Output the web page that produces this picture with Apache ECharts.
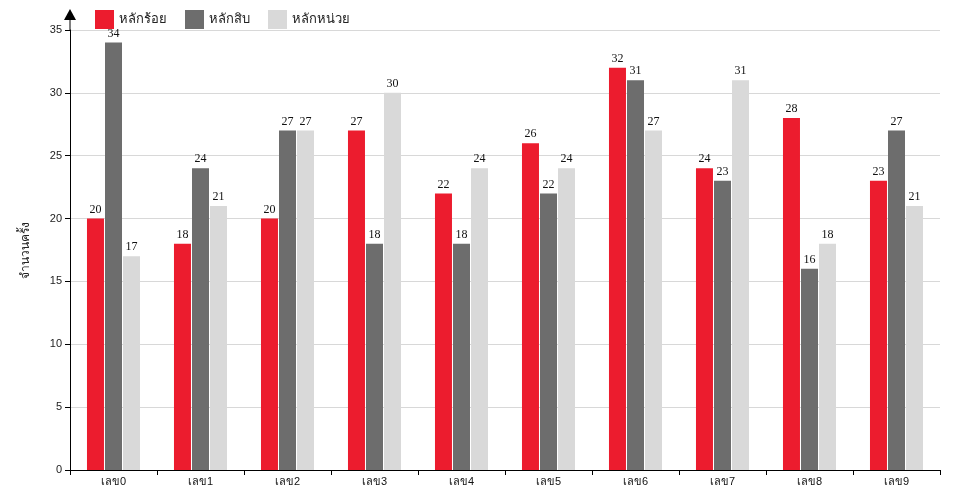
<!DOCTYPE html>
<html>
<head>
<meta charset="utf-8">
<script src="https://cdn.jsdelivr.net/npm/echarts@6/dist/echarts.min.js"></script>
<style>html,body{margin:0;background:#fff}#c{width:960px;height:500px}</style>
</head>
<body>
<div id="c"></div>
<script>
var categories = ['เลข0','เลข1','เลข2','เลข3','เลข4','เลข5','เลข6','เลข7','เลข8','เลข9'];
var hundreds = [20, 18, 20, 27, 22, 26, 32, 24, 28, 23];
var tens     = [34, 24, 27, 18, 18, 22, 31, 23, 16, 27];
var units    = [17, 21, 27, 30, 24, 24, 27, 31, 18, 21];

var lbl = { show: true, position: 'top', color: '#111', fontFamily: 'Liberation Serif', fontSize: 12, distance: 3 };
function bar(name, data, color) {
  return { name: name, type: 'bar', data: data, barWidth: 17, barGap: '6%', itemStyle: { color: color }, label: lbl };
}

var chart = echarts.init(document.getElementById('c'));
chart.setOption({
  animation: false,
  legend: {
    left: 90, top: 5, itemWidth: 19, itemHeight: 19, itemGap: 18, icon: 'rect',
    textStyle: { fontSize: 13, color: '#222', fontFamily: 'Noto Sans' }
  },
  grid: { left: 70, right: 20, top: 30, bottom: 30 },
  xAxis: {
    type: 'category', data: categories,
    axisLine: { lineStyle: { color: '#000' } },
    axisTick: { show: true, length: 5, lineStyle: { color: '#000' } },
    axisLabel: { color: '#111', fontSize: 11, margin: 6 }
  },
  yAxis: {
    type: 'value', min: 0, max: 35, interval: 5,
    name: 'จำนวนครั้ง', nameLocation: 'middle', nameGap: 38, nameRotate: 90,
    nameTextStyle: { color: '#222', fontSize: 12 },
    axisLine: { show: true, lineStyle: { color: '#000' } },
    axisTick: { show: true, length: 5, lineStyle: { color: '#000' } },
    axisLabel: { color: '#222', fontSize: 11, margin: 8 },
    splitLine: { lineStyle: { color: '#d8d8d8' } }
  },
  graphic: [
    { type: 'line', shape: { x1: 70, y1: 30, x2: 70, y2: 18 }, style: { stroke: '#000', lineWidth: 1 } },
    { type: 'polygon', shape: { points: [[70, 9], [64, 20], [76, 20]] }, style: { fill: '#000' } }
  ],
  series: [
    bar('หลักร้อย', hundreds, '#ec1c2e'),
    bar('หลักสิบ', tens, '#6d6d6d'),
    bar('หลักหน่วย', units, '#d9d9d9')
  ]
});
</script>
</body>
</html>
